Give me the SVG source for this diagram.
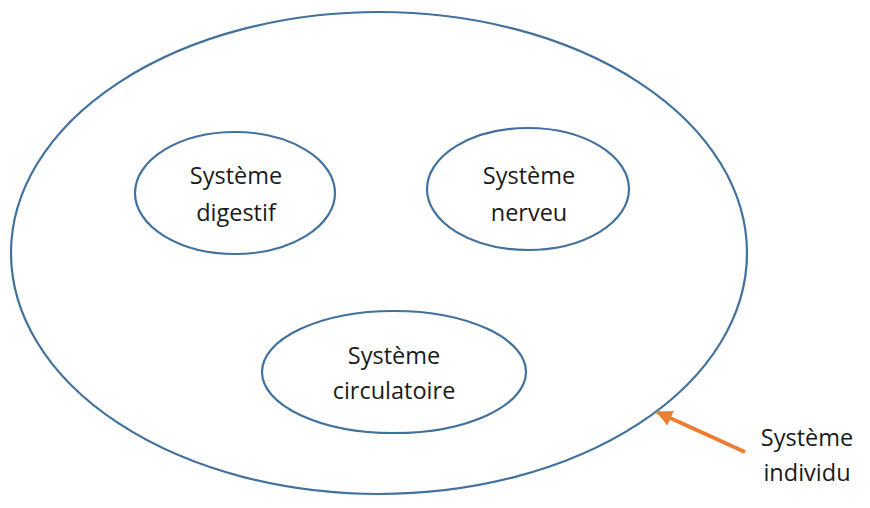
<svg xmlns="http://www.w3.org/2000/svg" width="870" height="508" viewBox="0 0 870 508">
<style>
.sys{fill:#ffffff;stroke:#41719C;stroke-width:2.2}
.lbl{font-family:"Open Sans","Liberation Sans",sans-serif;font-size:23.5px;fill:#1a1a1a;text-anchor:middle}
.arrow{stroke:#ED7D31;stroke-width:4;fill:none}
</style>
<defs>
<marker id="ah" markerUnits="userSpaceOnUse" markerWidth="18" markerHeight="18" refX="15" refY="8" orient="auto">
<path d="M0,0 L16,8 L0,16 z" fill="#ED7D31"/>
</marker>
</defs>
<rect width="870" height="508" fill="#ffffff"/>
<g id="individu">
<ellipse class="sys" cx="379" cy="253" rx="368" ry="241"/>
<text class="lbl" x="807" y="446">Système</text>
<text class="lbl" x="807" y="481">individu</text>
</g>
<g id="digestif">
<ellipse class="sys" cx="235" cy="193" rx="100" ry="61"/>
<text class="lbl" x="236" y="184">Système</text>
<text class="lbl" x="236" y="221">digestif</text>
</g>
<g id="nerveu">
<ellipse class="sys" cx="528" cy="189" rx="101" ry="61"/>
<text class="lbl" x="529" y="184">Système</text>
<text class="lbl" x="529" y="221">nerveu</text>
</g>
<g id="circulatoire">
<ellipse class="sys" cx="394" cy="372" rx="132" ry="61"/>
<text class="lbl" x="394" y="364">Système</text>
<text class="lbl" x="394" y="399">circulatoire</text>
</g>
<g id="connectors">
<line class="arrow" x1="745" y1="452" x2="657" y2="412" marker-end="url(#ah)"/>
</g>
</svg>
